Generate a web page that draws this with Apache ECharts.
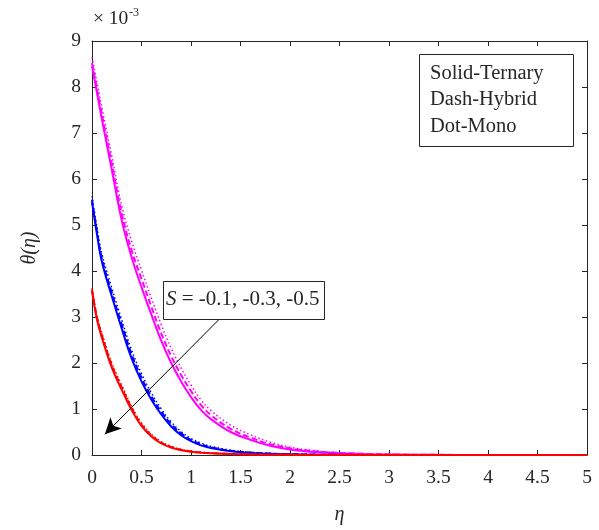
<!DOCTYPE html>
<html style="height: 100%">
<head>
    <meta charset="utf-8">
</head>
<body style="height: 100%; margin: 0">
<div id="container" style="width:599px;height:530px"></div>
<script type="text/javascript" src="https://cdn.jsdelivr.net/npm/echarts@6/dist/echarts.min.js"></script>
<script type="text/javascript">

    // eta grid shared by all curves
    var eta = [0, 0.05, 0.1, 0.2, 0.3, 0.4, 0.5, 0.6, 0.7, 0.8, 0.9, 1.0, 1.1, 1.2, 1.4, 1.6, 1.8, 2.0, 2.25, 2.5, 3.0, 3.5, 4.0, 4.5, 5.0];

    // theta values in units of 1e-3
    // S = -0.1 (magenta)
    var s1Ternary = [8.45, 7.88, 7.3, 6.2, 5.1, 4.3, 3.65, 3.05, 2.48, 2.0, 1.6, 1.26, 0.98, 0.78, 0.5, 0.33, 0.2, 0.12, 0.065, 0.035, 0.01, 0.003, 0.001, 0, 0];
    var s1Hybrid  = [8.52, 7.96, 7.4, 6.33, 5.25, 4.45, 3.83, 3.22, 2.64, 2.15, 1.74, 1.39, 1.09, 0.87, 0.57, 0.38, 0.235, 0.145, 0.08, 0.044, 0.013, 0.004, 0.001, 0, 0];
    var s1Mono    = [8.65, 8.1, 7.55, 6.5, 5.42, 4.65, 4.02, 3.41, 2.83, 2.32, 1.89, 1.52, 1.2, 0.97, 0.65, 0.44, 0.28, 0.17, 0.095, 0.052, 0.016, 0.005, 0.0015, 0, 0];
    // S = -0.3 (blue)
    var s3Ternary = [5.51, 4.8, 4.2, 3.45, 2.75, 2.1, 1.6, 1.2, 0.88, 0.62, 0.43, 0.3, 0.21, 0.15, 0.08, 0.045, 0.025, 0.014, 0.007, 0.003, 0.001, 0, 0, 0, 0];
    var s3Hybrid  = [5.55, 4.86, 4.27, 3.53, 2.84, 2.19, 1.68, 1.27, 0.94, 0.67, 0.47, 0.33, 0.235, 0.17, 0.092, 0.052, 0.03, 0.017, 0.009, 0.004, 0.001, 0, 0, 0, 0];
    var s3Mono    = [5.63, 4.95, 4.37, 3.63, 2.94, 2.28, 1.77, 1.35, 1.0, 0.72, 0.51, 0.36, 0.26, 0.19, 0.105, 0.06, 0.035, 0.02, 0.01, 0.005, 0.0015, 0, 0, 0, 0];
    // S = -0.5 (red)
    var s5Ternary = [3.57, 2.95, 2.55, 1.9, 1.42, 0.98, 0.63, 0.4, 0.25, 0.16, 0.105, 0.07, 0.05, 0.037, 0.02, 0.01, 0.005, 0.003, 0.001, 0, 0, 0, 0, 0, 0];
    var s5Hybrid  = [3.6, 2.99, 2.6, 1.95, 1.47, 1.02, 0.66, 0.425, 0.27, 0.175, 0.115, 0.077, 0.056, 0.042, 0.023, 0.012, 0.006, 0.003, 0.001, 0, 0, 0, 0, 0, 0];
    var s5Mono    = [3.63, 3.03, 2.65, 2.0, 1.52, 1.06, 0.7, 0.45, 0.29, 0.19, 0.125, 0.085, 0.062, 0.046, 0.026, 0.014, 0.007, 0.004, 0.0015, 0, 0, 0, 0, 0, 0];

    var legendLines = ['Solid-Ternary', 'Dash-Hybrid', 'Dot-Mono'];
    var arrowFrom = [1.28, 2.94];
    var arrowTo = [0.13, 0.45];

    function pairs(ys) {
        return eta.map(function (x, i) {
            return [x, ys[i]];
        });
    }

    var font = 'Liberation Serif, Times New Roman, serif';
    var axisColor = '#262626';

    function curve(name, ys, color, kind) {
        var ls = {color: color, width: 2, type: 'solid'};
        if (kind === 'dash') {
            ls = {color: color, width: 2, type: [6, 3]};
        } else if (kind === 'dot') {
            ls = {color: color, width: 1.5, type: [1.5, 2.5]};
        }
        return {
            name: name,
            type: 'line',
            data: pairs(ys),
            smooth: 0.4,
            showSymbol: false,
            symbol: 'none',
            lineStyle: ls,
            z: 3
        };
    }

    var dom = document.getElementById("container");
    var myChart = echarts.init(dom);

    var series = [
        curve('s1t', s1Ternary, '#ff00ff', 'solid'),
        curve('s1h', s1Hybrid, '#ff00ff', 'dash'),
        curve('s1m', s1Mono, '#ff00ff', 'dot'),
        curve('s3t', s3Ternary, '#0000ff', 'solid'),
        curve('s3h', s3Hybrid, '#0000ff', 'dash'),
        curve('s3m', s3Mono, '#0000ff', 'dot'),
        curve('s5t', s5Ternary, '#ff0000', 'solid'),
        curve('s5h', s5Hybrid, '#ff0000', 'dash'),
        curve('s5m', s5Mono, '#ff0000', 'dot')
    ];

    // arrow annotation
    series[0].markLine = {
        silent: true,
        symbol: ['none', 'arrow'],
        symbolSize: [12, 16],
        label: {show: false},
        lineStyle: {color: '#000', width: 1, type: 'solid'},
        data: [[{coord: arrowFrom}, {coord: arrowTo}]]
    };

    var option = {
        animation: false,
        grid: {left: 92, right: 12, top: 41, bottom: 66, containLabel: false},
        xAxis: [{
            type: 'value',
            min: 0, max: 5, interval: 0.5,
            name: 'η',
            nameLocation: 'middle',
            nameGap: 50,
            nameTextStyle: {fontFamily: font, fontSize: 20, fontStyle: 'italic', color: '#262626'},
            axisLine: {show: true, onZero: false, lineStyle: {color: axisColor, width: 1}},
            axisTick: {show: true, inside: true, length: 5, lineStyle: {color: axisColor}},
            axisLabel: {fontFamily: font, fontSize: 19.5, color: '#262626', margin: 13},
            splitLine: {show: false}
        }, {
            type: 'value',
            position: 'top',
            min: 0, max: 5, interval: 0.5,
            axisLine: {show: true, onZero: false, lineStyle: {color: axisColor, width: 1}},
            axisTick: {show: true, inside: true, length: 5, lineStyle: {color: axisColor}},
            axisLabel: {show: false},
            splitLine: {show: false}
        }],
        yAxis: [{
            type: 'value',
            min: 0, max: 9, interval: 1,
            name: 'θ(η)',
            nameLocation: 'middle',
            nameRotate: 90,
            nameGap: 52,
            nameTextStyle: {fontFamily: font, fontSize: 20, fontStyle: 'italic', color: '#262626'},
            axisLine: {show: true, onZero: false, lineStyle: {color: axisColor, width: 1}},
            axisTick: {show: true, inside: true, length: 5, lineStyle: {color: axisColor}},
            axisLabel: {fontFamily: font, fontSize: 19.5, color: '#262626', margin: 11},
            splitLine: {show: false}
        }, {
            type: 'value',
            position: 'right',
            min: 0, max: 9, interval: 1,
            axisLine: {show: true, onZero: false, lineStyle: {color: axisColor, width: 1}},
            axisTick: {show: true, inside: true, length: 5, lineStyle: {color: axisColor}},
            axisLabel: {show: false},
            splitLine: {show: false}
        }],
        graphic: [
            {
                type: 'text', left: 93, top: 9, z: 10,
                style: {text: '× 10', fontFamily: font, fontSize: 19.5, fill: '#262626'}
            },
            {
                type: 'text', left: 129, top: 7, z: 10,
                style: {text: '-3', fontFamily: font, fontSize: 12, fill: '#262626'}
            },
            {
                type: 'rect', left: 419, top: 54, z: 10,
                shape: {width: 154, height: 92},
                style: {fill: '#fff', stroke: '#262626', lineWidth: 1}
            },
            {
                type: 'text', left: 430, top: 60, z: 11,
                style: {text: legendLines.join('\n'), fontFamily: font, fontSize: 20.5, lineHeight: 26.5, fill: '#262626'}
            },
            {
                type: 'rect', left: 163, top: 281, z: 10,
                shape: {width: 161, height: 38},
                style: {fill: '#fff', stroke: '#262626', lineWidth: 1}
            },
            {
                type: 'text', left: 166, top: 289, z: 11,
                style: {
                    text: '{i|S} = -0.1, -0.3, -0.5',
                    fontFamily: font, fontSize: 21, fill: '#262626',
                    rich: {i: {fontFamily: font, fontSize: 21, fontStyle: 'italic', fill: '#262626'}}
                }
            }
        ],
        series: series
    };

    myChart.setOption(option);

</script>
</body>
</html>
